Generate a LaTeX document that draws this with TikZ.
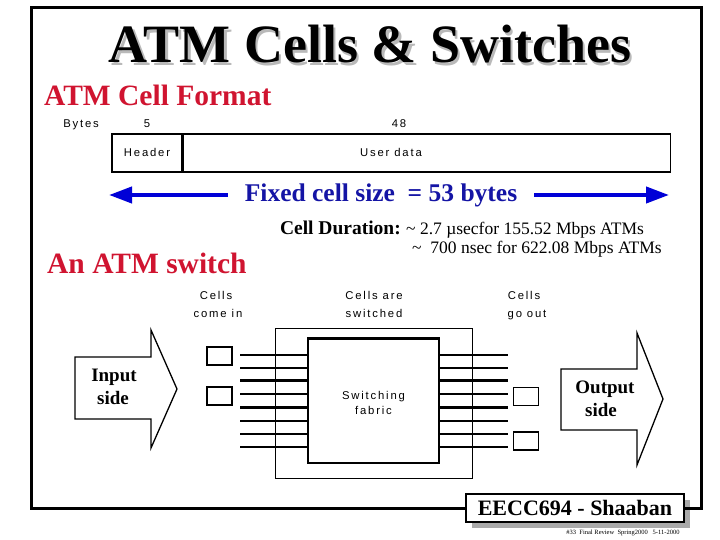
\documentclass[tikz,border=0pt]{standalone}
\usepackage{fontspec}
\setmainfont{Liberation Serif}
\newfontfamily\pixfont[LetterSpace=16]{Liberation Sans}
\usetikzlibrary{arrows.meta}
\definecolor{atmred}{RGB}{208,20,48}
\definecolor{atmblue}{RGB}{0,0,215}
\definecolor{txtblue}{RGB}{20,20,165}
\definecolor{shadowgray}{RGB}{170,170,170}
\definecolor{titleshade}{RGB}{185,185,185}
\begin{document}
\begin{tikzpicture}[x=1pt,y=-1pt,
  frame/.style={line width=3pt},
  pix/.style={font=\pixfont\fontsize{11.3}{13}\selectfont, inner sep=0pt, anchor=base},
  heading/.style={font=\bfseries\fontsize{29.5}{32}\selectfont, text=atmred, inner sep=0pt, anchor=base west},
  cellbox/.style={draw, line width=1.2pt, inner sep=0pt},
  bigarrow/.style={line width=4pt, draw=atmblue, -{Triangle[length=23pt,width=16pt]}},
  swline/.style={line width=2pt},
  swthick/.style={line width=3pt},
  smallbox/.style={draw, line width=1.3pt, minimum width=25pt, minimum height=18pt, inner sep=0pt},
  sidearrow/.style={line width=1.3pt, line join=miter},
  sidetext/.style={font=\bfseries\fontsize{19}{22}\selectfont, inner sep=0pt, anchor=base}
]
\useasboundingbox (0,0) rectangle (720,540);
\fill[white] (0,0) rectangle (720,540);

% title with its shadow, in one node
\node[font=\bfseries\fontsize{54}{60}\selectfont, anchor=base, inner sep=0pt] (title) at (370,63)
  {\rlap{\hspace{2.5pt}\raisebox{-2.5pt}{\textcolor{titleshade}{ATM Cells \& Switches}}}ATM Cells \& Switches};

% headings
\node[heading] (fmt) at (44,106) {ATM Cell Format};
\node[heading] (swh) at (47,273) {An ATM switch};

% cell format
\node[pix] (bytes) at (81,128) {Bytes};
\node[pix] (five) at (147,128) {5};
\node[pix] (fortyeight) at (399,128) {48};
\node[cellbox, minimum width=70pt, minimum height=38pt] (hdr) at (147,153) {};
\node[cellbox, minimum width=487pt, minimum height=38pt, anchor=west] (data) at (hdr.east) {};
\node[pix] (hdrtext) at (147,157) {Header};
\node[pix] (datatext) at (391,157) {User data};

% fixed cell size arrow
\node[font=\bfseries\fontsize{25.5}{28}\selectfont, text=txtblue, inner xsep=17pt, inner ysep=0pt] (fixed) at (381,195) {Fixed cell size\ \ = 53 bytes};
\coordinate (lefttip) at (109,195);
\coordinate (righttip) at (669,195);
\draw[bigarrow] (fixed.west) -- (lefttip);
\draw[bigarrow] (fixed.east) -- (righttip);

% cell duration
\node[font=\bfseries\fontsize{19.5}{21}\selectfont, anchor=base east, inner sep=0pt] (dur) at (401,234) {Cell Duration:};
\node[font=\fontsize{17.5}{21}\selectfont, anchor=base west, inner sep=0pt] (dur1) at (406,234) {\textasciitilde\ 2.7 µsecfor 155.52 Mbps ATMs};
\node[font=\fontsize{17.5}{21}\selectfont, anchor=base west, inner sep=0pt] (dur2) at (412,254) {\textasciitilde\ \ 700 nsec for 622.08 Mbps ATMs};

% switch labels
\node[pix] (in1) at (216,299) {Cells};
\node[pix] (in2) at (218,317) {come in};
\node[pix] (mid1) at (374,299) {Cells are};
\node[pix] (mid2) at (374,317) {switched};
\node[pix] (out1) at (524,299) {Cells};
\node[pix] (out2) at (527,317) {go out};

% switch boxes
\node[draw, line width=1pt, minimum width=197pt, minimum height=150pt, inner sep=0pt] (outer) at (373.5,403) {};
\node[draw, line width=1.3pt, minimum width=131pt, minimum height=124pt, inner sep=0pt] (fabric) at (373.5,401) {};
\draw[line width=2.8pt] (fabric.north west) -- (fabric.north east);
\node[pix] (sw1) at (373.5,399) {Switching};
\node[pix] (sw2) at (373.5,414) {fabric};

% switch lines
\foreach \y [count=\i] in {355,368.3,380.7,394.3,407.3,420.7,434,446.7} {
  \coordinate (li\i) at (240,\y);
  \coordinate (ro\i) at (508,\y);
}
\foreach \i in {1,2,4,6,7,8} {
  \draw[swline] (li\i) -- (fabric.west |- li\i);
  \draw[swline] (fabric.east |- ro\i) -- (ro\i);
}
\foreach \i in {3,5} {
  \draw[swthick] (li\i) -- (fabric.west |- li\i);
  \draw[swthick] (fabric.east |- ro\i) -- (ro\i);
}

% small cell boxes
\node[smallbox] (inA) at (219.5,356) {};
\node[smallbox] (inB) at (219.5,396) {};
\node[smallbox] (outA) at (526,396.5) {};
\node[smallbox] (outB) at (526,441) {};

% input / output arrows
\draw[sidearrow] (75,357) -- (151,357) -- (151,330) -- (177,389) -- (151,448) -- (151,419) -- (75,419) -- cycle;
\node[sidetext] (inp1) at (114,381) {Input};
\node[sidetext] (inp2) at (113,404) {side};
\draw[sidearrow] (561,369) -- (637,369) -- (637,333) -- (663,399) -- (637,465) -- (637,430) -- (561,430) -- cycle;
\node[sidetext] (outp1) at (605,393) {Output};
\node[sidetext] (outp2) at (601,416) {side};

% footer box
\fill[shadowgray] (472,500) rectangle (690,528);
\node[draw, fill=white, line width=1.2pt, minimum width=218pt, minimum height=28pt, inner sep=0pt, font=\bfseries\fontsize{22}{24}\selectfont] (eecc) at (575,508) {EECC694 - Shaaban};

% frame
\draw[frame] (eecc.west) -- (31,508) -- (31,8) -- (701,8) -- (701,508) -- (eecc.east);

\node[font=\fontsize{6.5}{8}\selectfont, inner sep=0pt] (foot) at (623,533) {\#33\ \ Final Review\ \ Spring2000\ \ \ 5-11-2000};
\end{tikzpicture}
\end{document}
